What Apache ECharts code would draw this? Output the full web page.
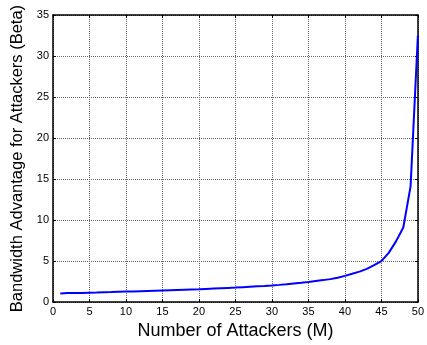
<!DOCTYPE html>
<html>
<head>
<meta charset="utf-8">
<script src="https://cdn.jsdelivr.net/npm/echarts@6/dist/echarts.min.js"></script>
<style>
  html, body { margin: 0; padding: 0; background: #fff; }
  #chart { width: 427px; height: 345px; }
</style>
</head>
<body>
<div id="chart"></div>
<script>
// number of attackers M
const attackers = [1, 2, 3, 4, 5, 6, 7, 8, 9, 10, 11, 12, 13, 14, 15, 16, 17, 18, 19, 20,
  21, 22, 23, 24, 25, 26, 27, 28, 29, 30, 31, 32, 33, 34, 35, 36, 37, 38, 39, 40,
  41, 42, 43, 44, 45, 46, 47, 48, 49, 50]
// bandwidth advantage beta
const beta = [1.05, 1.1, 1.1, 1.12, 1.15, 1.17, 1.2, 1.22, 1.25, 1.28, 1.3, 1.33, 1.36, 1.39, 1.42,
  1.45, 1.48, 1.51, 1.54, 1.57, 1.61, 1.65, 1.69, 1.73, 1.77, 1.82, 1.87, 1.92, 1.97, 2.03,
  2.1, 2.18, 2.27, 2.36, 2.46, 2.57, 2.68, 2.8, 2.98, 3.2, 3.45, 3.72, 4.05, 4.5, 5.0,
  6.0, 7.4, 9.1, 14.1, 32.5]

const xTitle = 'Number of Attackers (M)'
const yTitle = 'Bandwidth Advantage for Attackers (Beta)'

const font = 'Liberation Sans, Arial, sans-serif'
const splitStyle = { show: true, lineStyle: { color: '#666', type: [1, 1], width: 1 } }

const chart = echarts.init(document.getElementById('chart'))

// axes on the far sides only draw the box and the inner ticks
const sideAxis = {
  min: 0,
  interval: 5,
  axisLine: { show: true, onZero: false, lineStyle: { color: '#000', width: 1.5 } },
  axisTick: { show: true, inside: true, length: 3, lineStyle: { color: '#000' } },
  axisLabel: { show: false },
  splitLine: { show: false }
}

chart.setOption({
  animation: false,
  grid: { left: 53, right: 8, top: 15, bottom: 42 },
  xAxis: [
    {
      type: 'value',
      min: 0,
      max: 50,
      interval: 5,
      name: xTitle,
      nameLocation: 'middle',
      nameGap: 19,
      nameTextStyle: { fontFamily: font, fontSize: 18, color: '#000' },
      axisLine: { onZero: false, lineStyle: { color: '#000', width: 1.5 } },
      axisTick: { inside: true, length: 3, lineStyle: { color: '#000' } },
      axisLabel: { fontFamily: font, fontSize: 11, color: '#000', margin: 4 },
      splitLine: splitStyle
    },
    Object.assign({ type: 'value', position: 'top', max: 50 }, sideAxis)
  ],
  yAxis: [
    {
      type: 'value',
      min: 0,
      max: 35,
      interval: 5,
      name: yTitle,
      nameLocation: 'middle',
      nameGap: 22,
      nameTextStyle: { fontFamily: font, fontSize: 16.5, color: '#000' },
      axisLine: { show: true, onZero: false, lineStyle: { color: '#000', width: 1.5 } },
      axisTick: { show: true, inside: true, length: 3, lineStyle: { color: '#000' } },
      axisLabel: { fontFamily: font, fontSize: 11, color: '#000', margin: 4 },
      splitLine: splitStyle
    },
    Object.assign({ type: 'value', position: 'right', max: 35 }, sideAxis)
  ],
  series: [
    {
      type: 'line',
      data: attackers.map((m, i) => [m, beta[i]]),
      showSymbol: false,
      lineStyle: { color: '#0000ff', width: 2 },
      itemStyle: { color: '#0000ff' }
    }
  ]
})
</script>
</body>
</html>
